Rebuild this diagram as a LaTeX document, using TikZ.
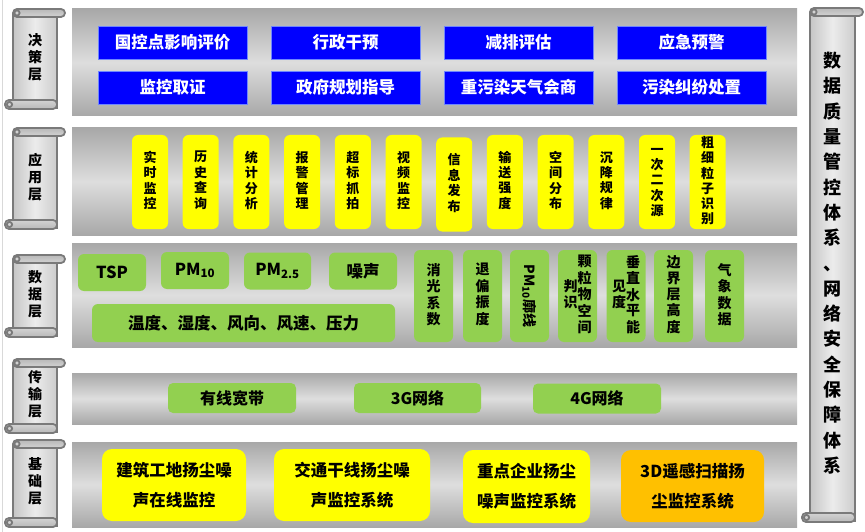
\documentclass[tikz,border=0pt]{standalone}
\usepackage{fontspec}
\setmainfont{Noto Sans CJK SC}
\usetikzlibrary{positioning}
\definecolor{bandD}{HTML}{A8A8A8}
\definecolor{bandL}{HTML}{DEDEDE}
\definecolor{scrollLine}{HTML}{7A7A7A}
\definecolor{decBlue}{HTML}{0000FF}
\definecolor{decEdge}{HTML}{6F86FF}
\definecolor{appYellow}{HTML}{FFFF00}
\definecolor{dataGreen}{HTML}{92D050}
\definecolor{baseOrange}{HTML}{FFC000}
\newcommand\vcol[1]{\begin{tabular}[c]{@{}c@{}}#1\end{tabular}}
\newcommand\myscroll[6]{% left, right, top, bottom, name, text
  \fill[left color=gray!45, right color=gray!40, middle color=gray!15] ({#1+8},{#3+4}) rectangle ({#2-8},{#4-4});
  \draw[scrollline] ({#1+8},{#3+4}) -- ({#1+8},{#4-6});
  \draw[scrollline] ({#2-8},{#3+8}) -- ({#2-8},{#4});
  \draw[scrollline, top color=gray!55, bottom color=gray!35, rounded corners=4] ({#1+8},{#3}) rectangle (#2,{#3+8});
  \draw[scrollline, fill=gray!35] ({#1+12},{#3+4}) circle (2.6);
  \draw[scrollline, top color=gray!35, bottom color=gray!55, rounded corners=4] (#1,{#4-9}) rectangle ({#2-8},#4);
  \draw[scrollline, fill=gray!35] ({#1+4.5},{#4-4.5}) circle (2.6);
  \node[scrolltext] (#5) at ({(#1+#2)/2},{(#3+#4)/2}) {#6};
}
\tikzset{
  band/.style={draw=none, top color=bandD, bottom color=bandD, middle color=bandL},
  scrollline/.style={draw=scrollLine, line width=1.8pt},
  scrolltext/.style={font=\bfseries\fontsize{14}{17}\selectfont, inner sep=0pt},
  decbox/.style={draw=decEdge, line width=0.8pt, fill=decBlue, text=white, minimum width=149pt, minimum height=33pt, inner sep=0pt, font=\bfseries\fontsize{16.5}{20}\selectfont},
  appbox/.style={fill=appYellow, rounded corners=6pt, minimum width=36pt, minimum height=94pt, inner sep=0pt, font=\bfseries\fontsize{13}{14.6}\selectfont},
  databox/.style={fill=dataGreen, rounded corners=6pt, minimum height=37pt, inner sep=0pt, font=\bfseries\fontsize{16.5}{20}\selectfont},
  vdatabox/.style={fill=dataGreen, rounded corners=6pt, minimum width=39pt, minimum height=92pt, inner sep=0pt, font=\bfseries\fontsize{14}{14.8}\selectfont},
  netbox/.style={fill=dataGreen, rounded corners=5pt, minimum height=30pt, inner sep=0pt, font=\bfseries\fontsize{16}{20}\selectfont},
  basebox/.style={rounded corners=10pt, minimum height=72pt, inner sep=0pt, align=center, font=\bfseries\fontsize{16.5}{30}\selectfont},
}
\begin{document}
\begin{tikzpicture}[x=1pt, y=-1pt]
\useasboundingbox (0,0) rectangle (865,532);
\fill[white] (0,0) rectangle (865,532);
\draw[gray!30, line width=0.8pt] (2.5,0) -- (2.5,532);
% bands
\shade[band] (72,9) rectangle (797,116);
\shade[band] (72,128) rectangle (797,235);
\shade[band] (72,243) rectangle (797,347);
\shade[band] (72,373) rectangle (797,424);
\shade[band] (72,442) rectangle (797,527);
% layer scrolls
\myscroll{5}{65}{9}{109}{L1}{\vcol{决\\策\\层}}
\myscroll{5}{65}{128}{229}{L2}{\vcol{应\\用\\层}}
\myscroll{5}{65}{255}{337}{L3}{\vcol{数\\据\\层}}
\myscroll{5}{65}{359}{433}{L4}{\vcol{传\\输\\层}}
\myscroll{5}{65}{440}{527}{L5}{\vcol{基\\础\\层}}
% right scroll
\myscroll{802}{863}{8}{522}{R}{\fontsize{18}{25.3}\selectfont\vcol{数\\据\\质\\量\\管\\控\\体\\系\\、\\网\\络\\安\\全\\保\\障\\体\\系}}
% decision layer
\node[decbox] (d1) at (172.5,42.5) {国控点影响评价};
\node[decbox] (d2) at (345.5,42.5) {行政干预};
\node[decbox] (d3) at (518.5,42.5) {减排评估};
\node[decbox] (d4) at (691.5,42.5) {应急预警};
\node[decbox] (d5) at (172.5,87.5) {监控取证};
\node[decbox] (d6) at (345.5,87.5) {政府规划指导};
\node[decbox] (d7) at (518.5,87.5) {重污染天气会商};
\node[decbox] (d8) at (691.5,87.5) {污染纠纷处置};
% application layer
\node[appbox] (a1) at (150,182) {\vcol{实\\时\\监\\控}};
\node[appbox] (a2) at (200.7,182) {\vcol{历\\史\\查\\询}};
\node[appbox] (a3) at (251.4,182) {\vcol{统\\计\\分\\析}};
\node[appbox] (a4) at (302.1,182) {\vcol{报\\警\\管\\理}};
\node[appbox] (a5) at (352.8,182) {\vcol{超\\标\\抓\\拍}};
\node[appbox] (a6) at (403.5,182) {\vcol{视\\频\\监\\控}};
\node[appbox] (a7) at (454.2,184.5) {\vcol{信\\息\\发\\布}};
\node[appbox] (a8) at (504.9,182) {\vcol{输\\送\\强\\度}};
\node[appbox] (a9) at (555.6,182) {\vcol{空\\间\\分\\布}};
\node[appbox] (a10) at (606.3,182) {\vcol{沉\\降\\规\\律}};
\node[appbox] (a11) at (657,182) {\vcol{一\\次\\二\\次\\源}};
\node[appbox] (a12) at (707.7,182) {\vcol{粗\\细\\粒\\子\\识\\别}};
% data layer
\node[databox, minimum width=68pt] (t1) at (112,272.5) {TSP};
\node[databox, minimum width=68pt] (t2) at (195,270.5) {PM\textsubscript{10}};
\node[databox, minimum width=67pt] (t3) at (277.5,271) {PM\textsubscript{2.5}};
\node[databox, minimum width=68pt] (t4) at (363,271) {噪声};
\node[databox, minimum width=303pt, minimum height=38pt] (t5) at (243.5,323) {温度、湿度、风向、风速、压力};
\node[vdatabox] (v1) at (433.5,296) {\vcol{消\\光\\系\\数}};
\node[vdatabox] (v2) at (482.5,296) {\vcol{退\\偏\\振\\度}};
\node[vdatabox] (v3) at (529.5,296) {\rotatebox{-90}{PM\textsubscript{10}廓线}};
\node[vdatabox] (v4) at (577.5,296) {\vcol{判\\识}\vcol{颗\\粒\\物\\空\\间}};
\node[vdatabox] (v5) at (626,296) {\vcol{见\\度}\vcol{垂\\直\\水\\平\\能}};
\node[vdatabox] (v6) at (673.5,296) {\vcol{边\\界\\层\\高\\度}};
\node[vdatabox] (v7) at (724.5,296) {\vcol{气\\象\\数\\据}};
% transport layer
\node[netbox, minimum width=128pt] (n1) at (232,398) {有线宽带};
\node[netbox, minimum width=127pt] (n2) at (417.5,398) {3G网络};
\node[netbox, minimum width=128pt] (n3) at (597,398.5) {4G网络};
% base layer
\node[basebox, fill=appYellow, minimum width=144pt] (b1) at (174,485) {建筑工地扬尘噪\\声在线监控};
\node[basebox, fill=appYellow, minimum width=156pt] (b2) at (352,485) {交通干线扬尘噪\\声监控系统};
\node[basebox, fill=appYellow, minimum width=127pt, minimum height=73pt] (b3) at (526.5,486.5) {重点企业扬尘\\噪声监控系统};
\node[basebox, fill=baseOrange, minimum width=143pt] (b4) at (692.5,486) {3D遥感扫描扬\\尘监控系统};
\end{tikzpicture}
\end{document}
